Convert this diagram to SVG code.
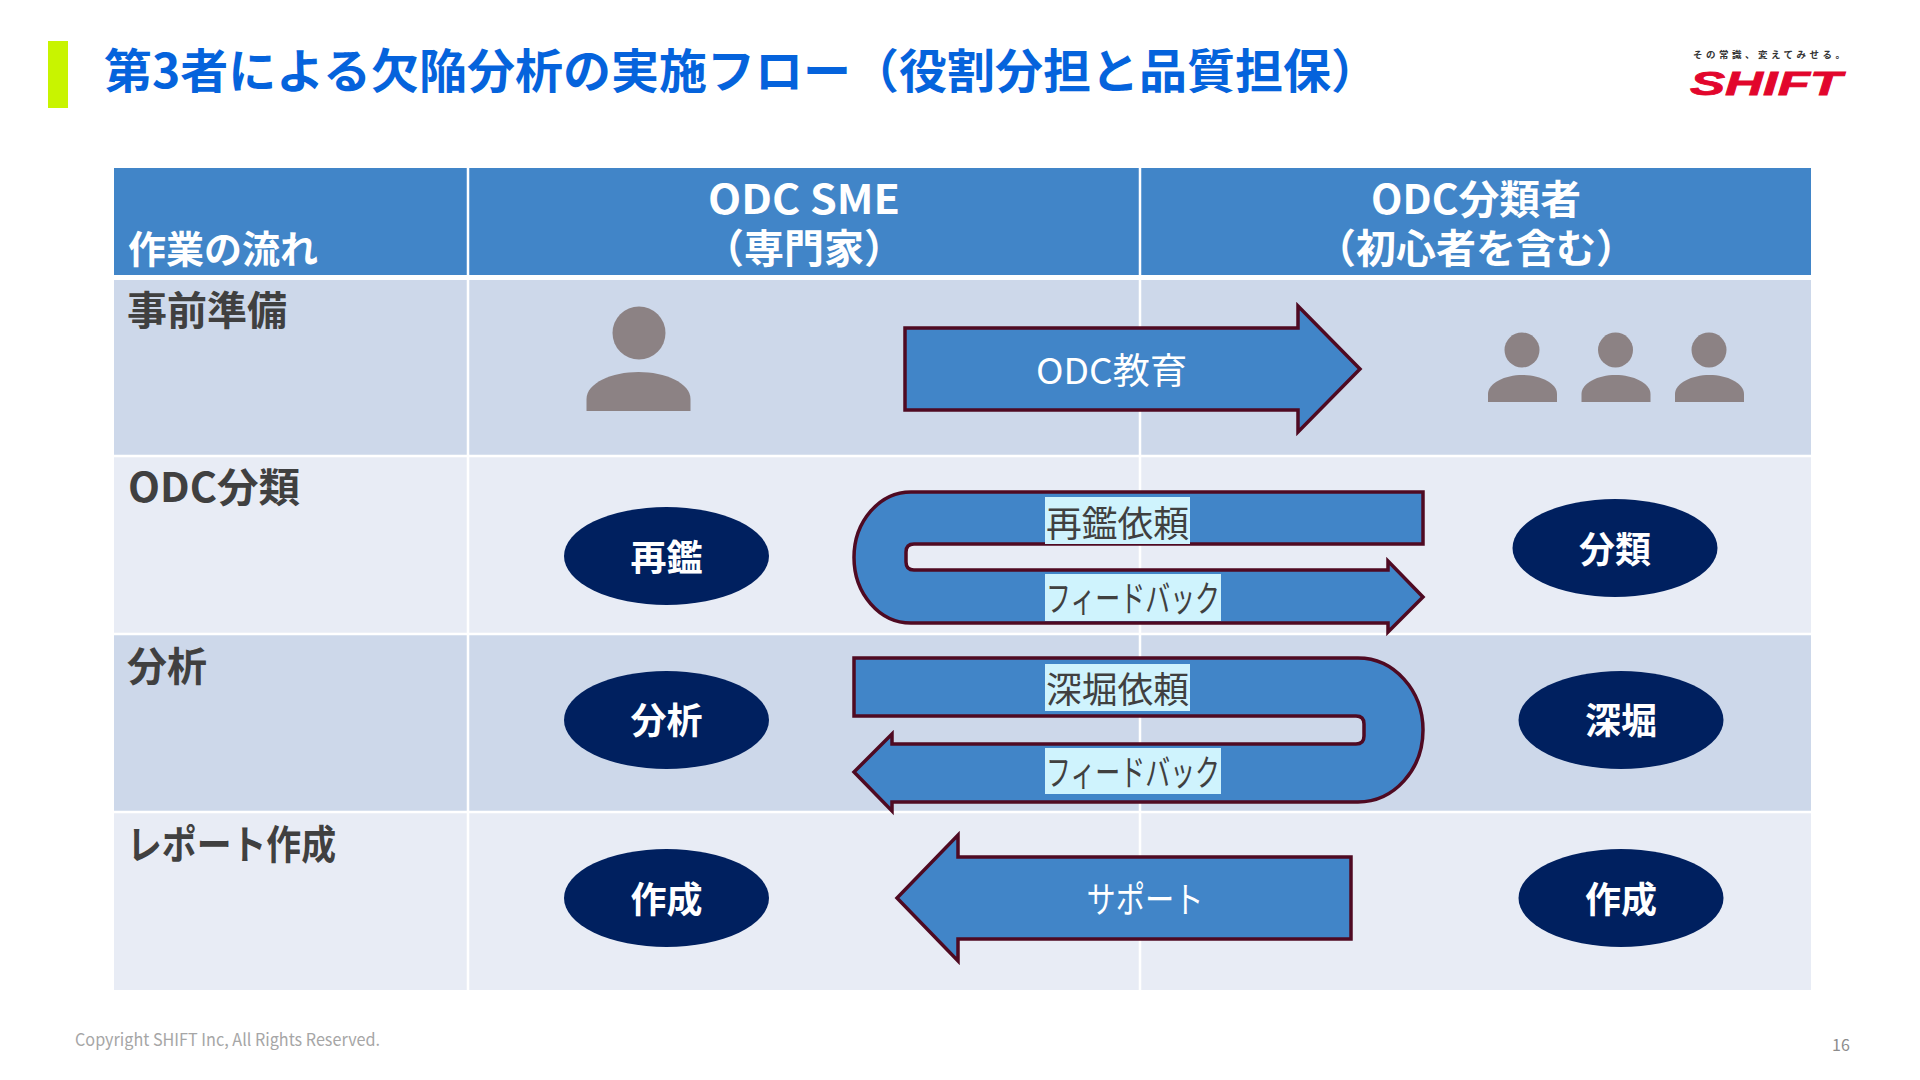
<svg xmlns="http://www.w3.org/2000/svg" width="1920" height="1080" viewBox="0 0 1920 1080">
<style>
text{font-family:"Noto Sans CJK JP","Noto Sans",sans-serif}
.hd{fill:#4185C8}.dk{fill:#CDD8EA}.lt{fill:#E8ECF5}
.grid{stroke:#fff;stroke-width:2.500;fill:none}
.h{font-size:40px;font-weight:700;fill:#fff;text-anchor:middle}
.r{font-size:40px;font-weight:700;fill:#404040}
.oval{fill:#00205F}
.ot{font-size:36px;font-weight:700;fill:#fff;text-anchor:middle}
.arrow{fill:#4185C8;stroke:#4F0A22;stroke-width:3.500;stroke-linejoin:miter}
.al{font-size:36px;fill:#fff;text-anchor:middle}
.tb{fill:#CFF3FD}
.tl{font-size:36px;fill:#404040}
.person{fill:#8C8284}
</style>
<rect width="1920" height="1080" fill="#fff"/>
<rect x="48" y="41" width="20" height="67" fill="#C8F400"/>
<text x="104" y="88" font-size="47" font-weight="700" fill="#0563DC" textLength="1275" lengthAdjust="spacingAndGlyphs">第3者による欠陥分析の実施フロー（役割分担と品質担保）</text>
<g id="logo">
<text x="1693" y="58" font-size="9.500" font-weight="700" fill="#333" textLength="152">その常識、変えてみせる。</text>
<text x="1690" y="95" font-size="34" font-weight="700" font-style="italic" fill="#E2062C" stroke="#E2062C" stroke-width="0.800" style="font-family:'Liberation Sans',sans-serif" textLength="152" lengthAdjust="spacingAndGlyphs">SHIFT</text>
</g>
<g id="table">
<rect class="hd" x="114" y="168" width="1697" height="107"/>
<rect class="dk" x="114" y="280" width="1697" height="176"/>
<rect class="lt" x="114" y="456" width="1697" height="178"/>
<rect class="dk" x="114" y="634" width="1697" height="178"/>
<rect class="lt" x="114" y="812" width="1697" height="178"/>
<path class="grid" d="M468 168V990M1140 168V990M114 456H1811M114 634H1811M114 812H1811"/>
<text class="h" x="804" y="214" textLength="192" lengthAdjust="spacingAndGlyphs">ODC SME</text>
<text class="h" x="804" y="263">（専門家）</text>
<text class="h" x="1476" y="214" textLength="210" lengthAdjust="spacingAndGlyphs">ODC分類者</text>
<text class="h" x="1476" y="263">（初心者を含む）</text>
<text x="128" y="263" font-size="38" font-weight="700" fill="#fff">作業の流れ</text>
<text class="r" x="127" y="325">事前準備</text>
<text class="r" x="128" y="502" textLength="172" lengthAdjust="spacingAndGlyphs">ODC分類</text>
<text class="r" x="127" y="681">分析</text>
<text class="r" x="127" y="859" textLength="209" lengthAdjust="spacingAndGlyphs">レポート作成</text>
</g>
<g id="person-sme">
<circle class="person" cx="639" cy="333" r="26.500"/>
<path class="person" d="M586.500 411V399C586.500 383 612 372 638.500 372S690.500 383 690.500 399V411Z"/>
</g>
<g id="person-1">
<circle class="person" cx="1522" cy="350" r="17.500"/>
<path class="person" d="M1488 402V394C1488 383 1505 375 1522.500 375S1557 383 1557 394V402Z"/>
</g>
<g id="person-2">
<circle class="person" cx="1615.500" cy="350" r="17.500"/>
<path class="person" d="M1581.500 402V394C1581.500 383 1598 375 1615.500 375S1650.500 383 1650.500 394V402Z"/>
</g>
<g id="person-3">
<circle class="person" cx="1709" cy="350" r="17.500"/>
<path class="person" d="M1675 402V394C1675 383 1692 375 1709.500 375S1744 383 1744 394V402Z"/>
</g>
<g id="node-saikan"><ellipse class="oval" cx="666.500" cy="556" rx="102.500" ry="49"/><text class="ot" x="666.500" y="571">再鑑</text></g>
<g id="node-bunrui"><ellipse class="oval" cx="1615" cy="548" rx="102.500" ry="49"/><text class="ot" x="1615" y="563">分類</text></g>
<g id="node-bunseki"><ellipse class="oval" cx="666.500" cy="720" rx="102.500" ry="49"/><text class="ot" x="666.500" y="734">分析</text></g>
<g id="node-shinkutsu"><ellipse class="oval" cx="1621" cy="720" rx="102.500" ry="49"/><text class="ot" x="1621" y="734">深堀</text></g>
<g id="node-sakusei-sme"><ellipse class="oval" cx="666.500" cy="898" rx="102.500" ry="49"/><text class="ot" x="666.500" y="913">作成</text></g>
<g id="node-sakusei-odc"><ellipse class="oval" cx="1621" cy="898" rx="102.500" ry="49"/><text class="ot" x="1621" y="913">作成</text></g>
<g id="connectors">
<path class="arrow" d="M905 328H1298V306L1360 369L1298 432V410H905Z"/>
<text class="al" x="1111.500" y="384" font-size="37" textLength="151" lengthAdjust="spacingAndGlyphs">ODC教育</text>
<path class="arrow" d="M1423 492H911A57 65.500 0 0 0 911 623H1388V632L1423 597L1388 561V570H914Q906 570 906 562V552Q906 544 914 544H1423Z"/>
<rect class="tb" x="1045" y="497" width="145" height="47"/>
<text class="tl" x="1046" y="537" textLength="143" lengthAdjust="spacingAndGlyphs">再鑑依頼</text>
<rect class="tb" x="1045" y="574" width="176" height="47"/>
<text class="tl" x="1046" y="612" textLength="174" lengthAdjust="spacingAndGlyphs">フィードバック</text>
<path class="arrow" d="M854 658H1358A65 72 0 0 1 1358 802H892V811L854 772L892 734V744H1356Q1364 744 1364 736V724Q1364 716 1356 716H854Z"/>
<rect class="tb" x="1045" y="664" width="145" height="47"/>
<text class="tl" x="1046" y="703" textLength="143" lengthAdjust="spacingAndGlyphs">深堀依頼</text>
<rect class="tb" x="1045" y="748" width="176" height="46"/>
<text class="tl" x="1046" y="786" textLength="174" lengthAdjust="spacingAndGlyphs">フィードバック</text>
<path class="arrow" d="M1351 857H958V835L897 898L958 961V939H1351Z"/>
<text class="al" x="1145" y="913" textLength="117" lengthAdjust="spacingAndGlyphs">サポート</text>
</g>
<text x="75" y="1046" font-size="17" fill="#A6A6A6" textLength="305" lengthAdjust="spacingAndGlyphs">Copyright SHIFT Inc, All Rights Reserved.</text>
<text x="1832" y="1051" font-size="16" fill="#8C8C8C">16</text>
</svg>
